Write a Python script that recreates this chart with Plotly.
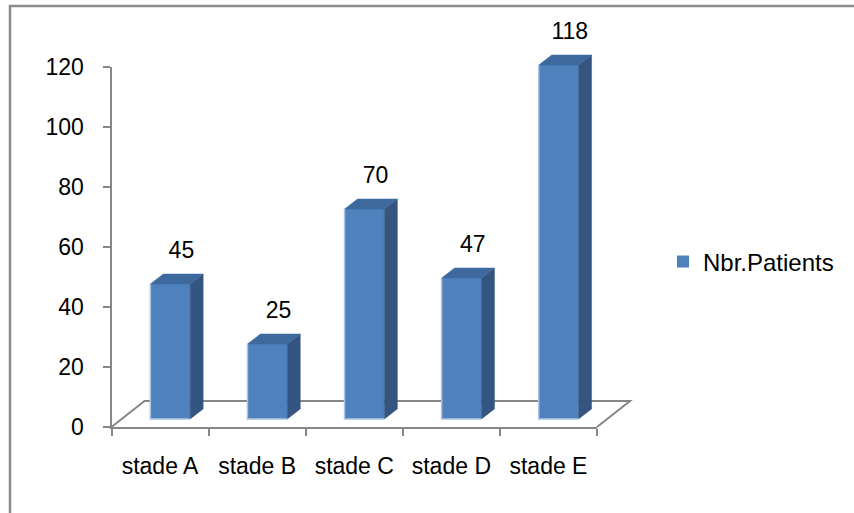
import numpy as np
import plotly.graph_objects as go

# ---------------- data ----------------
categories = ["stade A", "stade B", "stade C", "stade D", "stade E"]
values = [45, 25, 70, 47, 118]
series_name = "Nbr.Patients"
y_ticks = [0, 20, 40, 60, 80, 100, 120]

# ---------------- layout constants (pixels) ----------------
W, H = 854, 513
AX_LEFT, AX_RIGHT = 111.5, 597.0      # front floor edge
Y0_PX, YTOP_PX = 427.0, 67.0          # y=0 and y=120 pixel rows
px_x = (AX_RIGHT - AX_LEFT) / len(categories)
px_y = (Y0_PX - YTOP_PX) / (y_ticks[-1] - y_ticks[0])

lift = 8 / px_y            # bars stand set back on the floor
bar_off = -0.10
bar_w = 0.41
dx = 13 / px_x             # depth of the 3-D columns
dy = 10 / px_y
floor_dx = 33 / px_x
floor_dy = 26 / px_y
label_gap = 13.3

FRONT = "#4F81BD"
SIDE = "#34557F"
TOP = "#3E699E"
EDGE = "#A9C3E3"
GRID = "#868686"
FONT = "Liberation Sans"
FS = 23

pos = np.arange(len(categories), dtype=float)
vals = np.array(values, dtype=float)
n = len(categories)

fig = go.Figure()

# invisible trace that registers the categories on the visible axes
fig.add_trace(go.Scatter(x=categories, y=values, mode="markers",
                         marker=dict(opacity=0), hoverinfo="skip",
                         showlegend=False, xaxis="x", yaxis="y"))

# front faces
fig.add_trace(go.Bar(x=pos, y=vals, base=lift, offset=bar_off, width=bar_w,
                     marker=dict(color=FRONT, line=dict(width=0)),
                     name=series_name, showlegend=True, hoverinfo="skip",
                     xaxis="x2", yaxis="y2"))

# side and top faces
sx, sy, tx, ty, ex, ey = [], [], [], [], [], []
for p, v in zip(pos, vals):
    xl = p + bar_off
    xr = xl + bar_w
    b = lift
    t = v + lift
    sx += [xr, xr + dx, xr + dx, xr, xr, None]
    sy += [b, b + dy, t + dy, t, b, None]
    tx += [xl, xl + dx, xr + dx, xr, xl, None]
    ty += [t, t + dy, t + dy, t, t, None]
    ex += [xl, xl, xr, None]
    ey += [t, b, b, None]

fig.add_trace(go.Scatter(x=sx, y=sy, mode="lines", fill="toself",
                         fillcolor=SIDE, line=dict(width=0.5, color=SIDE),
                         hoverinfo="skip", showlegend=False,
                         xaxis="x2", yaxis="y2"))
fig.add_trace(go.Scatter(x=tx, y=ty, mode="lines", fill="toself",
                         fillcolor=TOP, line=dict(width=0.5, color=TOP),
                         hoverinfo="skip", showlegend=False,
                         xaxis="x2", yaxis="y2"))
fig.add_trace(go.Scatter(x=ex, y=ey, mode="lines",
                         line=dict(width=1.5, color=EDGE),
                         hoverinfo="skip", showlegend=False,
                         xaxis="x2", yaxis="y2"))

# value labels
fig.add_trace(go.Scatter(x=pos + 0.22, y=vals + label_gap, mode="text",
                         text=[str(v) for v in values],
                         textposition="middle center",
                         textfont=dict(family=FONT, size=FS, color="black"),
                         hoverinfo="skip", showlegend=False,
                         xaxis="x2", yaxis="y2"))

x2_range = [-0.5 - AX_LEFT / px_x, -0.5 + (W - AX_LEFT) / px_x]
y2_range = [-(H - Y0_PX) / px_y, Y0_PX / px_y]

# floor back edges (behind the columns)
floor_path = "M {} {} L {} {} L {} {} L {} {}".format(
    -0.5, 0, -0.5 + floor_dx, floor_dy,
    n - 0.5 + floor_dx, floor_dy, n - 0.5, 0)

fig.update_layout(
    width=W, height=H,
    margin=dict(l=0, r=0, t=0, b=0, autoexpand=False),
    paper_bgcolor="white", plot_bgcolor="rgba(0,0,0,0)",
    hovermode=False,
    font=dict(family=FONT, size=FS, color="black"),
    xaxis=dict(domain=[AX_LEFT / W, AX_RIGHT / W], type="category",
               categoryorder="array", categoryarray=categories,
               range=[-0.5, n - 0.5], tickson="boundaries",
               showline=True, linecolor=GRID, linewidth=2,
               ticks="outside", ticklen=7, tickwidth=2, tickcolor=GRID,
               showgrid=False, zeroline=False, fixedrange=True,
               ticklabelstandoff=17, automargin=False,
               tickfont=dict(family=FONT, size=FS, color="black"),
               anchor="y"),
    yaxis=dict(domain=[(H - Y0_PX) / H, (H - YTOP_PX) / H],
               range=[y_ticks[0], y_ticks[-1]], tickvals=y_ticks,
               showline=True, linecolor=GRID, linewidth=2,
               ticks="outside", ticklen=7, tickwidth=2, tickcolor=GRID,
               showgrid=False, zeroline=False, fixedrange=True,
               ticklabelstandoff=14, automargin=False,
               tickfont=dict(family=FONT, size=FS, color="black"),
               anchor="x"),
    xaxis2=dict(domain=[0, 1], range=x2_range, visible=False,
                fixedrange=True, anchor="y2", automargin=False),
    yaxis2=dict(domain=[0, 1], range=y2_range, visible=False,
                fixedrange=True, anchor="x2", automargin=False),
    legend=dict(x=663 / W, y=1 - 262 / H, xanchor="left", yanchor="middle",
                font=dict(family=FONT, size=24, color="black"),
                bgcolor="rgba(0,0,0,0)", borderwidth=0, itemwidth=30),
    showlegend=True,
    shapes=[
        dict(type="path", xref="x2", yref="y2", path=floor_path,
             line=dict(color=GRID, width=2), layer="below"),
        dict(type="rect", xref="paper", yref="paper",
             x0=10 / W, x1=1.2, y0=-0.2, y1=1 - 6 / H,
             line=dict(color="#8C8C8C", width=2.5),
             fillcolor="rgba(0,0,0,0)", layer="above"),
    ],
)

fig.write_html("out.html")
